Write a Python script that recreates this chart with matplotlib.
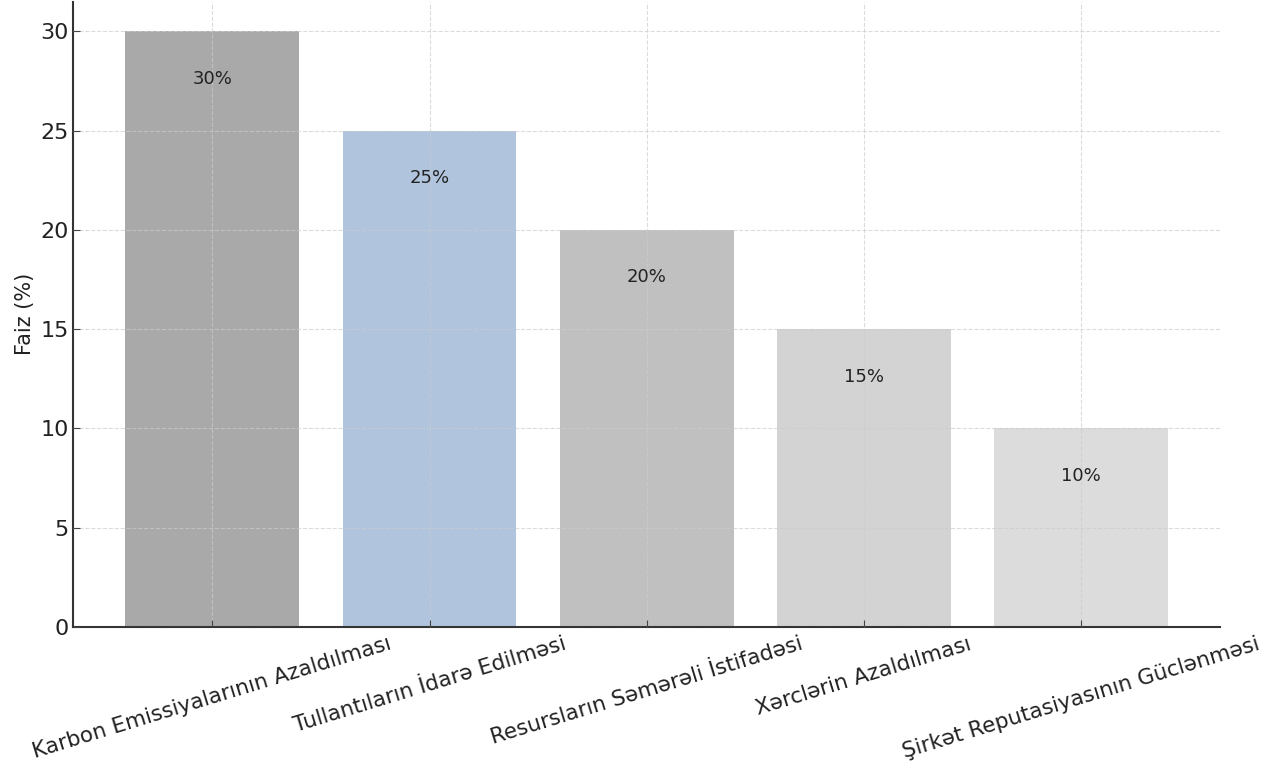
import numpy as np
import matplotlib.pyplot as plt

# kateqoriyalar və faizlər
kateqoriyalar = [
    "Karbon Emissiyalarının Azaldılması",
    "Tullantıların İdarə Edilməsi",
    "Resursların Səmərəli İstifadəsi",
    "Xərclərin Azaldılması",
    "Şirkət Reputasiyasının Güclənməsi",
]
faizler = [30, 25, 20, 15, 10]
renqler = ["#a9a9a9", "#b0c4de", "#c0c0c0", "#d3d3d3", "#dcdcdc"]
etiketler = ["30%", "25%", "20%", "15%", "10%"]

fig = plt.figure(figsize=(12.87, 7.72), dpi=100)
ax = fig.add_axes([0.057, 0.188, 0.891, 0.81])

x = np.arange(len(kateqoriyalar))
bars = ax.bar(x, faizler, width=0.8, color=renqler, zorder=1)

for b, lab in zip(bars, etiketler):
    ax.text(b.get_x() + b.get_width() / 2, b.get_height() - 2.4, lab,
            ha="center", va="center", fontsize=13, color="#222222", zorder=3)

ax.set_xticks(x)
ax.set_xticklabels(kateqoriyalar, rotation=17, ha="center", fontsize=15.5,
                   color="#222222")
ax.set_yticks([0, 5, 10, 15, 20, 25, 30])
ax.tick_params(axis="y", labelsize=16, labelcolor="#222222")
ax.tick_params(axis="x", pad=5)
ax.tick_params(direction="in", length=5, color="#444444")
ax.set_ylabel("Faiz (%)", fontsize=15, color="#222222")
ax.set_ylim(0, 31.5)

ax.grid(True, linestyle="--", color="#cccccc", linewidth=0.8, alpha=0.7, zorder=2)
ax.set_axisbelow(False)
for s in ["top", "right"]:
    ax.spines[s].set_visible(False)
ax.spines["left"].set_color("#333333")
ax.spines["bottom"].set_color("#333333")
ax.spines["left"].set_linewidth(1.5)
ax.spines["bottom"].set_linewidth(1.5)

fig.savefig("out.png", dpi=100)
